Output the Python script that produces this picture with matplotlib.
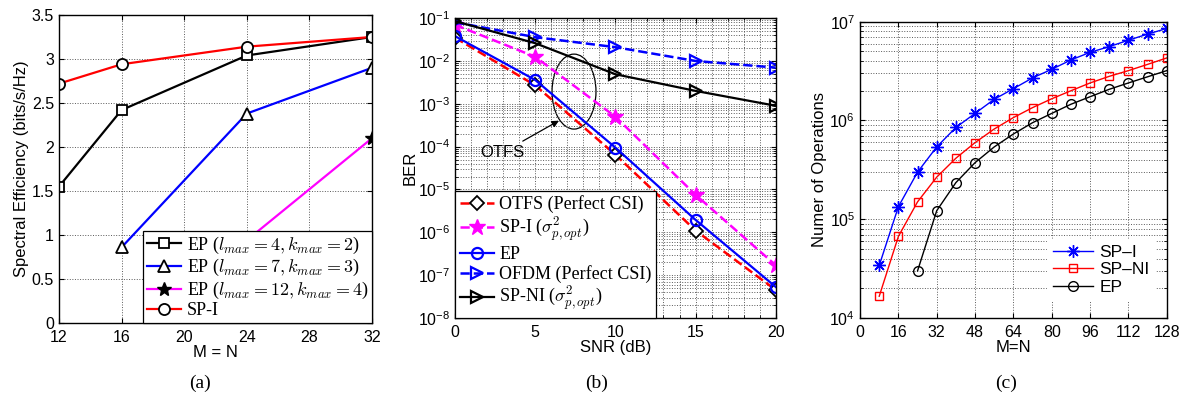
import matplotlib
matplotlib.use("Agg")
import matplotlib.pyplot as plt
from matplotlib.patches import Ellipse
from matplotlib.ticker import MultipleLocator, LogLocator, NullFormatter

plt.rcParams['font.family'] = ['Liberation Sans', 'DejaVu Sans']
plt.rcParams['mathtext.fontset'] = 'cm'
plt.rcParams['xtick.direction'] = 'in'
plt.rcParams['ytick.direction'] = 'in'
plt.rcParams['xtick.top'] = True
plt.rcParams['ytick.right'] = True
plt.rcParams['xtick.major.pad'] = 5

# ---- (a) spectral efficiency vs M = N
mn_a = [12, 16, 24, 32]
ep_4_2 = [1.55, 2.42, 3.04, 3.25]
mn_7_3 = [16, 24, 32]
ep_7_3 = [0.86, 2.38, 2.90]
mn_12_4 = [24, 32]
ep_12_4 = [0.94, 2.10]
sp_i_a = [2.72, 2.94, 3.14, 3.25]

# ---- (b) BER vs SNR
snr = [0, 5, 10, 15, 20]
ber_otfs_csi = [3.5e-2, 2.7e-3, 6.5e-5, 1.1e-6, 4.5e-8]
ber_sp_i = [7.0e-2, 1.25e-2, 5.0e-4, 7.5e-6, 1.7e-7]
ber_ep = [3.8e-2, 3.6e-3, 9.5e-5, 1.95e-6, 5.3e-8]
ber_ofdm = [8.0e-2, 3.6e-2, 2.1e-2, 1.0e-2, 7.0e-3]
ber_sp_ni = [8.5e-2, 2.6e-2, 4.9e-3, 2.0e-3, 9.0e-4]

# ---- (c) complexity vs M=N
mn_c = [8, 16, 24, 32, 40, 48, 56, 64, 72, 80, 88, 96, 104, 112, 120, 128]
ops_sp_i = [3.4e4, 1.34e5, 3.0e5, 5.4e5, 8.5e5, 1.18e6, 1.64e6, 2.1e6,
            2.7e6, 3.3e6, 4.1e6, 4.9e6, 5.6e6, 6.5e6, 7.5e6, 8.55e6]
ops_sp_ni = [1.66e4, 6.7e4, 1.5e5, 2.67e5, 4.15e5, 5.97e5, 8.2e5, 1.07e6,
             1.35e6, 1.66e6, 2.0e6, 2.4e6, 2.8e6, 3.2e6, 3.7e6, 4.3e6]
mn_c_ep = mn_c[2:]
ops_ep = [3.0e4, 1.22e5, 2.35e5, 3.74e5, 5.4e5, 7.3e5, 9.5e5, 1.18e6,
          1.46e6, 1.74e6, 2.07e6, 2.4e6, 2.77e6, 3.2e6]

fig = plt.figure(figsize=(11.84, 4.03), dpi=100)
tick_fs = 11.5
lab_fs = 12
leg_serif = {'family': 'Liberation Serif', 'size': 13}
grid_kw = dict(color='0.35', linestyle=':', linewidth=0.7)
asterisk = (8, 2, 0)

# ================= (a)
ax1 = fig.add_axes([0.0498, 0.1985, 0.2644, 0.7643])
ax1.plot(mn_a, ep_4_2, '-ks', lw=1.6, ms=7, mfc='white', mew=1.3,
         label=r'EP ($l_{max}=4, k_{max}=2$)')
ax1.plot(mn_7_3, ep_7_3, '-^', color='blue', mec='k', lw=1.6, ms=8, mfc='white', mew=1.3,
         label=r'EP ($l_{max}=7, k_{max}=3$)')
ax1.plot(mn_12_4, ep_12_4, '-*', color='magenta', mec='k', mfc='k', lw=1.6, ms=10,
         label=r'EP ($l_{max}=12, k_{max}=4$)')
ax1.plot(mn_a, sp_i_a, '-o', color='red', mec='k', lw=1.6, ms=8, mfc='white', mew=1.3,
         label='SP-I')
ax1.set_xlim(12, 32)
ax1.set_ylim(0, 3.5)
ax1.set_xticks([12, 16, 20, 24, 28, 32])
ax1.set_yticks([0, 0.5, 1, 1.5, 2, 2.5, 3, 3.5])
ax1.set_yticklabels(['0', '0.5', '1', '1.5', '2', '2.5', '3', '3.5'])
ax1.tick_params(labelsize=tick_fs)
ax1.grid(True, **grid_kw)
ax1.set_xlabel('M = N', fontsize=lab_fs, labelpad=0)
ax1.set_ylabel('Spectral Efficiency (bits/s/Hz)', fontsize=lab_fs, labelpad=2)
leg1 = ax1.legend(loc='lower right', prop=leg_serif, borderaxespad=0, fancybox=False,
                  framealpha=1, edgecolor='k', handlelength=1.9, borderpad=0.2,
                  labelspacing=0.08, handletextpad=0.3)
leg1.get_frame().set_linewidth(0.9)

# ================= (b)
ax2 = fig.add_axes([0.3843, 0.211, 0.2709, 0.744])
ax2.semilogy(snr, ber_otfs_csi, '--D', color='red', mec='k', mfc='white', lw=1.8,
             ms=7, mew=1.3, label='OTFS (Perfect CSI)')
ax2.semilogy(snr, ber_sp_i, '--*', color='magenta', mec='magenta', lw=1.8, ms=12,
             label=r'SP-I ($\sigma^2_{p,opt}$)')
ax2.semilogy(snr, ber_ep, '-o', color='blue', mfc='none', lw=1.6, ms=8, mew=1.6,
             label='EP')
ax2.semilogy(snr, ber_ofdm, '-->', color='blue', mfc='none', lw=1.8, ms=8, mew=1.6,
             label='OFDM (Perfect CSI)')
ax2.semilogy(snr, ber_sp_ni, '->', color='k', mfc='none', lw=1.6, ms=8, mew=1.6,
             label=r'SP-NI ($\sigma^2_{p,opt}$)')
ax2.set_xlim(0, 20)
ax2.set_ylim(1e-8, 1e-1)
ax2.set_xticks([0, 5, 10, 15, 20])
ax2.xaxis.set_minor_locator(MultipleLocator(1))
ax2.yaxis.set_major_locator(LogLocator(base=10, numticks=10))
ax2.yaxis.set_minor_locator(LogLocator(base=10, subs=range(2, 10), numticks=20))
ax2.yaxis.set_minor_formatter(NullFormatter())
ax2.tick_params(labelsize=tick_fs)
ax2.tick_params(which='minor', length=2)
ax2.grid(True, which='both', **grid_kw)
ax2.set_xlabel('SNR (dB)', fontsize=lab_fs, labelpad=0)
ax2.set_ylabel('BER', fontsize=lab_fs, labelpad=0)
ax2.add_patch(Ellipse((0.371, 0.755), 0.137, 0.25, transform=ax2.transAxes,
                      fill=False, edgecolor='k', lw=0.9))
ax2.annotate('OTFS', xy=(0.324, 0.658), xytext=(0.147, 0.551),
             xycoords='axes fraction', textcoords='axes fraction',
             ha='center', va='center', fontsize=lab_fs,
             arrowprops=dict(arrowstyle='-|>', color='k', lw=0.9, mutation_scale=10,
                             shrinkA=2, shrinkB=0))
leg2 = ax2.legend(loc='lower left', prop=leg_serif, borderaxespad=0, fancybox=False,
                  framealpha=1, edgecolor='k', handlelength=1.9, borderpad=0.25,
                  labelspacing=0.12, handletextpad=0.3)
leg2.get_frame().set_linewidth(0.9)

# ================= (c)
ax3 = fig.add_axes([0.7264, 0.211, 0.259, 0.735])
ax3.semilogy(mn_c, ops_sp_i, '-', marker=asterisk, color='blue', lw=1.0, ms=9, mew=1.0,
             label='SP\u2013I')
ax3.semilogy(mn_c, ops_sp_ni, '-s', color='red', mfc='none', lw=1.0, ms=6, mew=1.0,
             label='SP\u2013NI')
ax3.semilogy(mn_c_ep, ops_ep, '-o', color='k', mfc='none', lw=1.0, ms=7, mew=1.0,
             label='EP')
ax3.set_xlim(0, 128)
ax3.set_ylim(1e4, 1e7)
ax3.set_xticks(range(0, 129, 16))
ax3.yaxis.set_minor_locator(LogLocator(base=10, subs=range(2, 10), numticks=20))
ax3.yaxis.set_minor_formatter(NullFormatter())
ax3.tick_params(labelsize=tick_fs)
ax3.tick_params(which='minor', length=2)
ax3.grid(True, which='both', **grid_kw)
ax3.set_xlabel('M=N', fontsize=lab_fs, labelpad=0)
ax3.set_ylabel('Numer of Operations', fontsize=lab_fs, labelpad=2)
leg3 = ax3.legend(loc='lower right', bbox_to_anchor=(0.99, 0.03), fontsize=12.5,
                  fancybox=False, framealpha=1, edgecolor='white', handlelength=2.3,
                  borderpad=0.3, labelspacing=0.15, handletextpad=0.4)

for ax in (ax1, ax2, ax3):
    for s in ax.spines.values():
        s.set_linewidth(1.0)

cap = {'family': 'Liberation Serif', 'size': 14}
fig.text(0.169, 0.05, '(a)', ha='center', va='center', fontdict=cap)
fig.text(0.504, 0.05, '(b)', ha='center', va='center', fontdict=cap)
fig.text(0.850, 0.05, '(c)', ha='center', va='center', fontdict=cap)

fig.savefig('out.png', dpi=100)
